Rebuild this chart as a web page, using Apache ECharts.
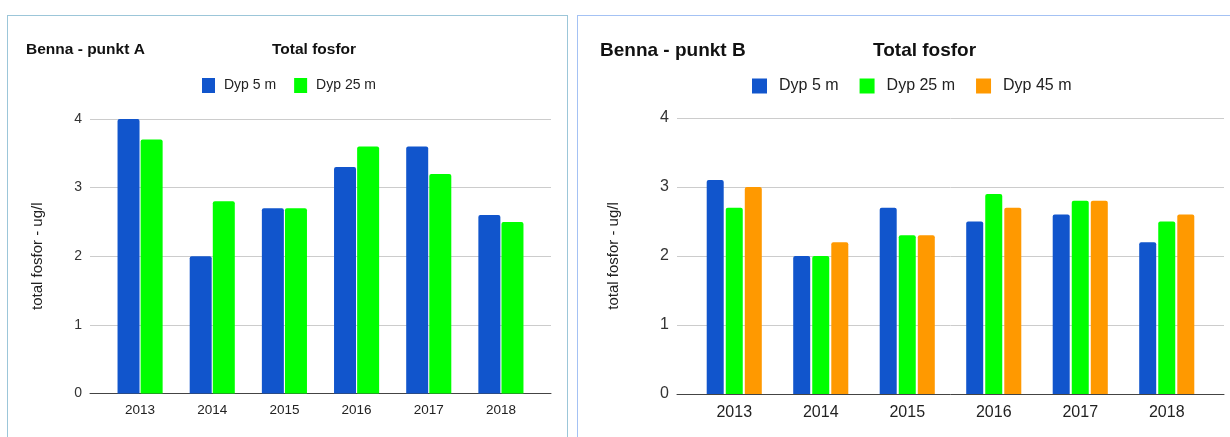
<!DOCTYPE html>
<html>
<head>
<meta charset="utf-8">
<script src="https://cdn.jsdelivr.net/npm/echarts@6/dist/echarts.min.js"></script>
<style>
    html, body { margin: 0; padding: 0; background: #fff; overflow: hidden; }
    .panel { position: absolute; border: 1px solid #a9c6e2; box-sizing: border-box; }
    #chart { position: absolute; left: 0; top: 0; width: 1230px; height: 437px; }
</style>
</head>
<body>
<div class="panel" style="left:7px; top:15px; width:561px; height:440px; border-color:#9cc6d9;"></div>
<div class="panel" style="left:577px; top:15px; width:670px; height:440px; border-color:#a4c2f4;"></div>
<div id="chart"></div>
<script>
// Chart data
const years = ['2013', '2014', '2015', '2016', '2017', '2018'];
const seriesNames = ['Dyp 5 m', 'Dyp 25 m', 'Dyp 45 m'];
const colors = ['#1155cc', '#00ff00', '#ff9900'];
const yTicks = [0, 1, 2, 3, 4];

// Benna - punkt A
const punktA5 = [4.0, 2.0, 2.7, 3.3, 3.6, 2.6];
const punktA25 = [3.7, 2.8, 2.7, 3.6, 3.2, 2.5];

// Benna - punkt B
const punktB5 = [3.1, 2.0, 2.7, 2.5, 2.6, 2.2];
const punktB25 = [2.7, 2.0, 2.3, 2.9, 2.8, 2.5];
const punktB45 = [3.0, 2.2, 2.3, 2.7, 2.8, 2.6];

const FONT = "'Liberation Sans', Arial, sans-serif";
const yMin = yTicks[0];
const yMax = yTicks[yTicks.length - 1];
const yStep = yTicks[1] - yTicks[0];

// y axis with labels + gridlines (wide grid) and a hidden twin for the bars
function gridYAxis(gridIndex, labelSize, nameGap) {
    return {
        type: 'value', gridIndex: gridIndex, min: yMin, max: yMax, interval: yStep,
        name: 'total fosfor - ug/l', nameLocation: 'middle', nameRotate: 90, nameGap: nameGap,
        nameTextStyle: { fontFamily: FONT, fontSize: 15, color: '#222' },
        axisLine: { show: false }, axisTick: { show: false },
        axisLabel: { fontFamily: FONT, fontSize: labelSize, color: '#333', margin: 8 },
        splitLine: { lineStyle: { color: '#cccccc', width: 1 } }
    };
}
function barYAxis(gridIndex) {
    return { type: 'value', gridIndex: gridIndex, min: yMin, max: yMax, interval: yStep, show: false };
}
function baseXAxis(gridIndex) {
    return {
        type: 'value', gridIndex: gridIndex, min: 0, max: 1,
        axisLine: { show: true, onZero: false, lineStyle: { color: '#444', width: 1 } },
        axisTick: { show: false }, axisLabel: { show: false }, splitLine: { show: false }
    };
}
function catXAxis(gridIndex, labelSize, margin) {
    return {
        type: 'category', gridIndex: gridIndex, data: years,
        axisLine: { show: false }, axisTick: { show: false },
        axisLabel: { fontFamily: FONT, fontSize: labelSize, color: '#222', margin: margin }
    };
}
function bar(nameIdx, data, axisIdx, width, gap) {
    return {
        type: 'bar', name: seriesNames[nameIdx], data: data,
        xAxisIndex: axisIdx, yAxisIndex: axisIdx,
        barWidth: width, barGap: gap,
        itemStyle: { color: colors[nameIdx], borderRadius: [2, 2, 0, 0] },
        emphasis: { disabled: true }
    };
}

const chart = echarts.init(document.getElementById('chart'));
chart.setOption({
    animation: false,
    color: colors,
    title: [
        { text: 'Benna - punkt A', left: 21, top: 37,
          textStyle: { fontFamily: FONT, fontSize: 15.5, fontWeight: 'bold', color: '#111' } },
        { text: 'Total fosfor', left: 267, top: 37,
          textStyle: { fontFamily: FONT, fontSize: 15.5, fontWeight: 'bold', color: '#111' } },
        { text: 'Benna - punkt B', left: 595, top: 36,
          textStyle: { fontFamily: FONT, fontSize: 19, fontWeight: 'bold', color: '#111' } },
        { text: 'Total fosfor', left: 868, top: 36,
          textStyle: { fontFamily: FONT, fontSize: 19, fontWeight: 'bold', color: '#111' } }
    ],
    legend: [
        { data: seriesNames.slice(0, 2), left: 197, top: 73, icon: 'rect',
          itemWidth: 13, itemHeight: 15, itemGap: 18, selectedMode: false,
          textStyle: { fontFamily: FONT, fontSize: 14, color: '#222', padding: [0, 0, 0, 4] } },
        { data: seriesNames, left: 747, top: 73, icon: 'rect',
          itemWidth: 15, itemHeight: 15, itemGap: 21, selectedMode: false,
          textStyle: { fontFamily: FONT, fontSize: 16, color: '#222', padding: [0, 0, 0, 7] } }
    ],
    grid: [
        { left: 90, width: 461, top: 119, height: 274.5 },
        { left: 104, width: 433, top: 119, height: 274.5 },
        { left: 677, width: 547, top: 118, height: 276 },
        { left: 691, width: 519, top: 118, height: 276 }
    ],
    xAxis: [
        baseXAxis(0),
        catXAxis(1, 13.5, 10),
        baseXAxis(2),
        catXAxis(3, 16, 11)
    ],
    yAxis: [
        gridYAxis(0, 14, 45),
        barYAxis(1),
        gridYAxis(2, 16, 56),
        barYAxis(3)
    ],
    series: [
        bar(0, punktA5, 1, 22, '5%'),
        bar(1, punktA25, 1, 22, '5%'),
        bar(0, punktB5, 3, 17, '12%'),
        bar(1, punktB25, 3, 17, '12%'),
        bar(2, punktB45, 3, 17, '12%')
    ]
});

window.addEventListener('resize', function() {
    chart.resize();
});
</script>
</body>
</html>
